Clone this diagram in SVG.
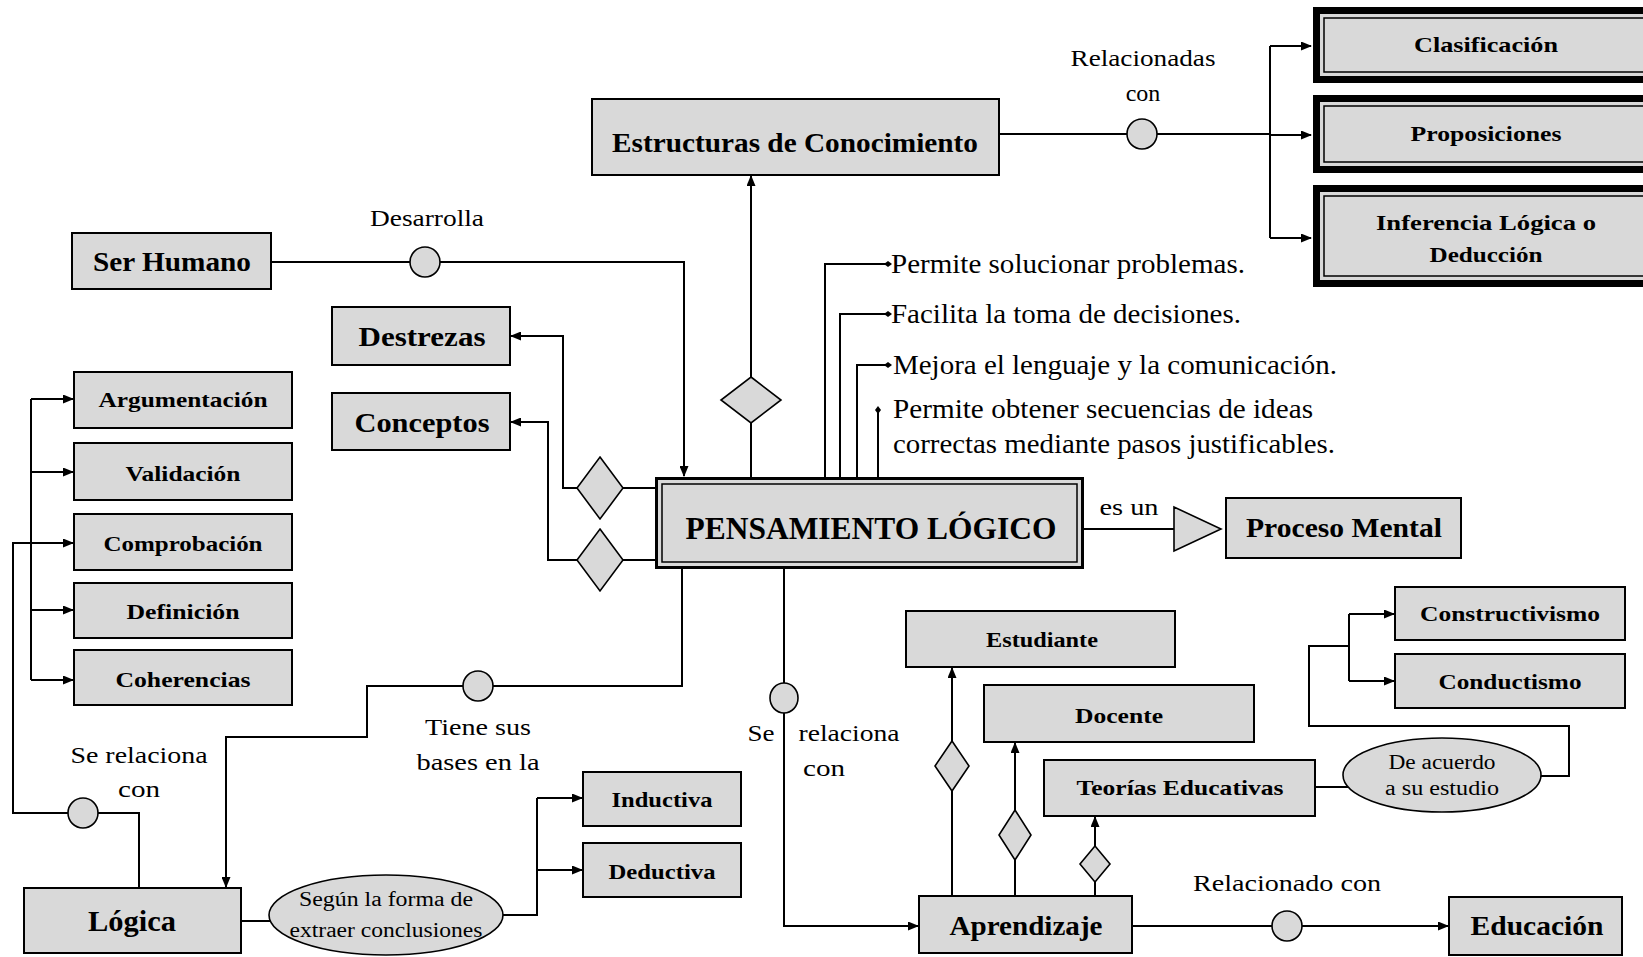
<svg xmlns="http://www.w3.org/2000/svg" width="1643" height="957" viewBox="0 0 1643 957">
<defs>
<marker id="arr" markerUnits="userSpaceOnUse" markerWidth="11" markerHeight="9" refX="10" refY="4.5" orient="auto"><path d="M0,0 L11,4.5 L0,9 z" fill="#000"/></marker>
<marker id="dot" markerUnits="userSpaceOnUse" markerWidth="8" markerHeight="8" refX="4" refY="4" orient="auto"><path d="M0,4 L4,1 L8,4 L4,7 z" fill="#000"/></marker>
<style>
.box{fill:#d9d9d9;stroke:#000;stroke-width:2}
.thick{fill:#d9d9d9;stroke:#000;stroke-width:7}
.in{fill:none;stroke:#000;stroke-width:1.5}
.sh{fill:#d9d9d9;stroke:#000;stroke-width:1.6}
.ln{fill:none;stroke:#000;stroke-width:2}
.a{marker-end:url(#arr)}
.d{marker-end:url(#dot)}
.b{font-family:"Liberation Serif","Times New Roman",serif;font-weight:bold;fill:#000;text-anchor:middle}
.t{font-family:"Liberation Serif","Times New Roman",serif;fill:#000}
.m{text-anchor:middle}
</style>
</defs>
<rect width="1643" height="957" fill="#fff"/>

<g id="connectors">
<!-- Estructuras -> bracket -->
<path class="ln" d="M999,134 H1270"/>
<path class="ln" d="M1270,46 V238"/>
<path class="ln a" d="M1270,46 H1311"/>
<path class="ln a" d="M1270,135 H1311"/>
<path class="ln a" d="M1270,238 H1311"/>
<ellipse class="sh" cx="1142" cy="134" rx="15" ry="15"/>
<!-- PL -> Estructuras -->
<path class="ln" d="M751,477 V423"/>
<path class="ln a" d="M751,377 V176"/>
<polygon class="sh" points="751,377 781,400 751,423 721,400"/>
<!-- Ser Humano -> PL -->
<path class="ln a" d="M271,262 H684 V476"/>
<ellipse class="sh" cx="425" cy="262" rx="15" ry="15"/>
<!-- PL -> Destrezas / Conceptos -->
<path class="ln" d="M655,488 H623"/>
<path class="ln a" d="M577,488 H563 V336 H511"/>
<polygon class="sh" points="600,457 623,488 600,519 577,488"/>
<path class="ln" d="M655,560 H623"/>
<path class="ln a" d="M577,560 H548 V422 H511"/>
<polygon class="sh" points="600,529 623,560 600,591 577,560"/>
<!-- bullets -->
<path class="ln d" d="M825,477 V264 H888"/>
<path class="ln d" d="M840,477 V314 H888"/>
<path class="ln d" d="M857,477 V365 H888"/>
<path class="ln d" d="M878,477 V410"/>
<!-- es un -->
<path class="ln" d="M1084,529 H1174"/>
<polygon class="sh" points="1174,507 1174,551 1221,529"/>
<!-- left bracket -->
<path class="ln" d="M31,399 V680"/>
<path class="ln a" d="M31,399 H73"/>
<path class="ln a" d="M31,472 H73"/>
<path class="ln a" d="M31,610 H73"/>
<path class="ln a" d="M31,680 H73"/>
<path class="ln a" d="M139,888 V813 H13 V543 H73"/>
<ellipse class="sh" cx="83" cy="813" rx="15" ry="15"/>
<!-- PL -> Logica -->
<path class="ln a" d="M682,569 V686 H367 V737 H226 V887"/>
<ellipse class="sh" cx="478" cy="686" rx="15" ry="15"/>
<!-- Logica -> ellipse -> Inductiva/Deductiva -->
<path class="ln" d="M241,921 H270"/>
<path class="ln" d="M502,915 H537 V798"/>
<path class="ln a" d="M537,798 H582"/>
<path class="ln a" d="M537,870 H582"/>
<!-- PL -> Aprendizaje -->
<path class="ln a" d="M784,569 V926 H918"/>
<ellipse class="sh" cx="784" cy="698" rx="14" ry="15"/>
<!-- Aprendizaje -> Educacion -->
<path class="ln a" d="M1132,926 H1448"/>
<ellipse class="sh" cx="1287" cy="926" rx="15" ry="15"/>
<!-- Aprendizaje -> Estudiante/Docente/Teorias -->
<path class="ln" d="M952,896 V791"/>
<path class="ln a" d="M952,741 V668"/>
<polygon class="sh" points="952,741 969,766 952,791 935,766"/>
<path class="ln" d="M1015,896 V860"/>
<path class="ln a" d="M1015,810 V743"/>
<polygon class="sh" points="1015,810 1031,835 1015,860 999,835"/>
<path class="ln" d="M1095,896 V882"/>
<path class="ln a" d="M1095,846 V817"/>
<polygon class="sh" points="1095,846 1110,864 1095,882 1080,864"/>
<!-- Teorias -> ellipse -> Constructivismo/Conductismo -->
<path class="ln" d="M1315,787 H1348"/>
<path class="ln" d="M1540,776 H1569 V726 H1309 V646 H1349"/>
<path class="ln" d="M1349,614 V681"/>
<path class="ln a" d="M1349,614 H1394"/>
<path class="ln a" d="M1349,681 H1394"/>
</g>

<g id="clasificacion"><rect class="thick" x="1316.5" y="10.5" width="340" height="69"/><rect class="in" x="1324" y="18" width="330" height="54"/><text class="b" x="1486" y="52" font-size="22" textLength="144" lengthAdjust="spacingAndGlyphs">Clasificación</text></g>
<g id="proposiciones"><rect class="thick" x="1316.5" y="98.5" width="340" height="71"/><rect class="in" x="1324" y="106" width="330" height="56"/><text class="b" x="1486" y="141" font-size="22" textLength="151" lengthAdjust="spacingAndGlyphs">Proposiciones</text></g>
<g id="inferencia"><rect class="thick" x="1316.5" y="188.5" width="340" height="95"/><rect class="in" x="1324" y="196" width="330" height="80"/><text class="b" x="1486" y="230" font-size="22" textLength="220" lengthAdjust="spacingAndGlyphs">Inferencia  Lógica  o</text><text class="b" x="1486" y="262" font-size="22" textLength="113" lengthAdjust="spacingAndGlyphs">Deducción</text></g>

<g id="relacionadas"><text class="t m" x="1143" y="66" font-size="24" textLength="145" lengthAdjust="spacingAndGlyphs">Relacionadas</text><text class="t m" x="1143" y="101" font-size="24">con</text></g>

<g id="estructuras"><rect class="box" x="592" y="99" width="407" height="76"/><text class="b" x="795" y="152" font-size="27" textLength="366" lengthAdjust="spacingAndGlyphs">Estructuras de Conocimiento</text></g>

<g id="ser-humano"><rect class="box" x="72" y="233" width="199" height="56"/><text class="b" x="172" y="271" font-size="27" textLength="158" lengthAdjust="spacingAndGlyphs">Ser Humano</text></g>
<g id="desarrolla"><text class="t m" x="427" y="226" font-size="24" textLength="114" lengthAdjust="spacingAndGlyphs">Desarrolla</text></g>

<g id="destrezas"><rect class="box" x="332" y="307" width="178" height="58"/><text class="b" x="422" y="346" font-size="28" textLength="127" lengthAdjust="spacingAndGlyphs">Destrezas</text></g>
<g id="conceptos"><rect class="box" x="332" y="393" width="178" height="57"/><text class="b" x="422" y="432" font-size="28" textLength="135" lengthAdjust="spacingAndGlyphs">Conceptos</text></g>

<g id="bullets">
<text class="t" x="891" y="273" font-size="27" textLength="354" lengthAdjust="spacingAndGlyphs">Permite solucionar  problemas.</text>
<text class="t" x="891" y="323" font-size="27" textLength="350" lengthAdjust="spacingAndGlyphs">Facilita  la toma de decisiones.</text>
<text class="t" x="893" y="374" font-size="27" textLength="444" lengthAdjust="spacingAndGlyphs">Mejora el lenguaje  y la comunicación.</text>
<text class="t" x="893" y="418" font-size="27" textLength="420" lengthAdjust="spacingAndGlyphs">Permite obtener secuencias de ideas</text>
<text class="t" x="893" y="453" font-size="27" textLength="442" lengthAdjust="spacingAndGlyphs">correctas mediante pasos justificables.</text>
</g>

<g id="pensamiento"><rect x="656.5" y="478.5" width="426" height="89" fill="#d9d9d9" stroke="#000" stroke-width="3"/><rect class="in" x="662" y="484" width="415" height="78"/><text class="b" x="871" y="539" font-size="31" textLength="371" lengthAdjust="spacingAndGlyphs">PENSAMIENTO LÓGICO</text></g>

<g id="es-un"><text class="t m" x="1129" y="515" font-size="24" textLength="59" lengthAdjust="spacingAndGlyphs">es un</text></g>
<g id="proceso"><rect class="box" x="1226" y="498" width="235" height="60"/><text class="b" x="1344" y="537" font-size="27" textLength="196" lengthAdjust="spacingAndGlyphs">Proceso Mental</text></g>

<g id="argumentacion"><rect class="box" x="74" y="372" width="218" height="56"/><text class="b" x="183" y="407" font-size="22" textLength="169" lengthAdjust="spacingAndGlyphs">Argumentación</text></g>
<g id="validacion"><rect class="box" x="74" y="443" width="218" height="57"/><text class="b" x="183" y="481" font-size="22" textLength="115" lengthAdjust="spacingAndGlyphs">Validación</text></g>
<g id="comprobacion"><rect class="box" x="74" y="514" width="218" height="56"/><text class="b" x="183" y="551" font-size="22" textLength="159" lengthAdjust="spacingAndGlyphs">Comprobación</text></g>
<g id="definicion"><rect class="box" x="74" y="583" width="218" height="55"/><text class="b" x="183" y="619" font-size="22" textLength="113" lengthAdjust="spacingAndGlyphs">Definición</text></g>
<g id="coherencias"><rect class="box" x="74" y="650" width="218" height="55"/><text class="b" x="183" y="687" font-size="22" textLength="135" lengthAdjust="spacingAndGlyphs">Coherencias</text></g>

<g id="se-relaciona-1"><text class="t m" x="139" y="763" font-size="24" textLength="137" lengthAdjust="spacingAndGlyphs">Se relaciona</text><text class="t m" x="139" y="797" font-size="24" textLength="42" lengthAdjust="spacingAndGlyphs">con</text></g>
<g id="tiene-sus"><text class="t m" x="478" y="735" font-size="24" textLength="106" lengthAdjust="spacingAndGlyphs">Tiene sus</text><text class="t m" x="478" y="770" font-size="24" textLength="123" lengthAdjust="spacingAndGlyphs">bases en la</text></g>

<g id="logica"><rect class="box" x="24" y="888" width="217" height="65"/><text class="b" x="132" y="931" font-size="29" textLength="88" lengthAdjust="spacingAndGlyphs">Lógica</text></g>
<g id="segun"><ellipse class="sh" cx="386" cy="915" rx="117" ry="40"/><text class="t m" x="386" y="906" font-size="20" textLength="174" lengthAdjust="spacingAndGlyphs">Según  la forma de</text><text class="t m" x="386" y="937" font-size="20" textLength="193" lengthAdjust="spacingAndGlyphs">extraer conclusiones</text></g>
<g id="inductiva"><rect class="box" x="583" y="772" width="158" height="54"/><text class="b" x="662" y="807" font-size="22" textLength="101" lengthAdjust="spacingAndGlyphs">Inductiva</text></g>
<g id="deductiva"><rect class="box" x="583" y="843" width="158" height="54"/><text class="b" x="662" y="879" font-size="22" textLength="107" lengthAdjust="spacingAndGlyphs">Deductiva</text></g>

<g id="se-relaciona-2"><text class="t m" x="761" y="741" font-size="24" textLength="27" lengthAdjust="spacingAndGlyphs">Se</text><text class="t m" x="849" y="741" font-size="24" textLength="101" lengthAdjust="spacingAndGlyphs">relaciona</text><text class="t m" x="824" y="776" font-size="24" textLength="42" lengthAdjust="spacingAndGlyphs">con</text></g>

<g id="estudiante"><rect class="box" x="906" y="611" width="269" height="56"/><text class="b" x="1042" y="647" font-size="22" textLength="112" lengthAdjust="spacingAndGlyphs">Estudiante</text></g>
<g id="docente"><rect class="box" x="984" y="685" width="270" height="57"/><text class="b" x="1119" y="723" font-size="22" textLength="88" lengthAdjust="spacingAndGlyphs">Docente</text></g>
<g id="teorias"><rect class="box" x="1044" y="760" width="271" height="56"/><text class="b" x="1180" y="795" font-size="22" textLength="207" lengthAdjust="spacingAndGlyphs">Teorías  Educativas</text></g>
<g id="de-acuerdo"><ellipse class="sh" cx="1442" cy="775" rx="99" ry="37"/><text class="t m" x="1442" y="769" font-size="20" textLength="107" lengthAdjust="spacingAndGlyphs">De acuerdo</text><text class="t m" x="1442" y="795" font-size="20" textLength="114" lengthAdjust="spacingAndGlyphs">a su estudio</text></g>
<g id="constructivismo"><rect class="box" x="1395" y="587" width="230" height="53"/><text class="b" x="1510" y="621" font-size="22" textLength="180" lengthAdjust="spacingAndGlyphs">Constructivismo</text></g>
<g id="conductismo"><rect class="box" x="1395" y="654" width="230" height="54"/><text class="b" x="1510" y="689" font-size="22" textLength="143" lengthAdjust="spacingAndGlyphs">Conductismo</text></g>

<g id="aprendizaje"><rect class="box" x="919" y="896" width="213" height="57"/><text class="b" x="1026" y="935" font-size="27" textLength="153" lengthAdjust="spacingAndGlyphs">Aprendizaje</text></g>
<g id="relacionado-con"><text class="t m" x="1287" y="891" font-size="24" textLength="188" lengthAdjust="spacingAndGlyphs">Relacionado  con</text></g>
<g id="educacion"><rect class="box" x="1449" y="897" width="173" height="58"/><text class="b" x="1537" y="935" font-size="27" textLength="133" lengthAdjust="spacingAndGlyphs">Educación</text></g>
</svg>
